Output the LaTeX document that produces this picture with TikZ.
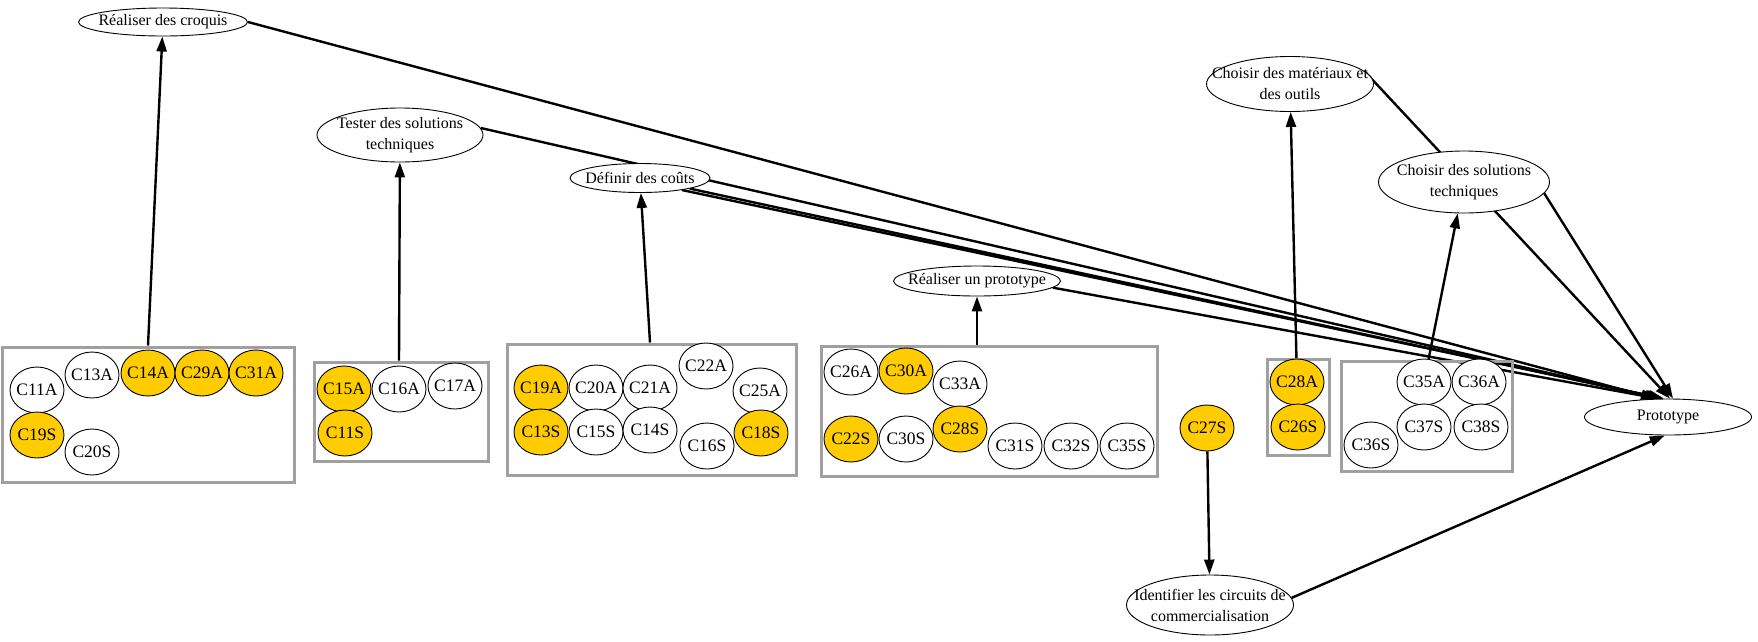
\documentclass[tikz,border=0pt]{standalone}
\usepackage{fontspec}
\setmainfont{Liberation Serif}
\usetikzlibrary{shapes.geometric,arrows.meta,backgrounds}
\definecolor{cyel}{RGB}{255,204,0}
\definecolor{cgry}{RGB}{160,160,160}
\newcommand\enode[6]{\node[en={#4}{#5}] (#1) at (#2,#3) {}; \node[lab] (#1t) at (#1) {#6};}
\begin{document}
\begin{tikzpicture}[x=1pt,y=-1pt,
  cn/.style={ellipse,draw,line width=0.9pt,fill=white,minimum width=54pt,minimum height=46pt,inner xsep=-4pt,inner ysep=0pt,font=\fontsize{17.5}{20}\selectfont},
  ycn/.style={cn,fill=cyel},
  en/.style 2 args={ellipse,draw,line width=0.9pt,fill=white,minimum width=#1,minimum height=#2,inner sep=0pt},
  lab/.style={align=center,font=\fontsize{16}{21}\selectfont,inner sep=0pt},
  clus/.style={draw=cgry,line width=3pt,inner sep=0pt},
  edge/.style={line width=2.4pt},
  arr/.style={edge,-{Triangle[length=15pt,width=10pt]}}
]
\useasboundingbox (0,0) rectangle (1758,641);
% clusters
\node[clus,minimum width=292pt,minimum height=135pt] (box1) at (148,414.5) {};
\node[clus,minimum width=174pt,minimum height=99pt] (box2) at (401,411.5) {};
\node[clus,minimum width=289pt,minimum height=131pt] (box3) at (651.5,409.5) {};
\node[clus,minimum width=336pt,minimum height=130pt] (box4) at (989,411) {};
\node[clus,minimum width=62pt,minimum height=96pt] (box5) at (1298,407) {};
\node[clus,minimum width=171pt,minimum height=110pt] (box6) at (1426.5,416) {};
% box 1
\node[cn]  (C11A) at (37,390) {C11A};
\node[cn]  (C13A) at (92,375) {C13A};
\node[ycn] (C14A) at (148,373) {C14A};
\node[ycn] (C29A) at (202,373) {C29A};
\node[ycn] (C31A) at (256,373) {C31A};
\node[ycn] (C19S) at (37,435) {C19S};
\node[cn]  (C20S) at (92,452) {C20S};
% box 2
\node[ycn] (C15A) at (344,389) {C15A};
\node[cn]  (C16A) at (399,389) {C16A};
\node[cn]  (C17A) at (455,386) {C17A};
\node[ycn] (C11S) at (345,433) {C11S};
% box 3
\node[ycn] (C19A) at (541,388) {C19A};
\node[cn]  (C20A) at (596,388) {C20A};
\node[cn]  (C21A) at (650,388) {C21A};
\node[cn]  (C22A) at (706,366) {C22A};
\node[cn]  (C25A) at (760,391) {C25A};
\node[ycn] (C13S) at (541,432) {C13S};
\node[cn]  (C15S) at (596,432) {C15S};
\node[cn]  (C14S) at (650,430) {C14S};
\node[cn]  (C16S) at (707,446) {C16S};
\node[ycn] (C18S) at (761,433) {C18S};
% box 4
\node[cn]  (C26A) at (851,372) {C26A};
\node[ycn] (C30A) at (906,371) {C30A};
\node[cn]  (C33A) at (960,384) {C33A};
\node[ycn] (C22S) at (851,439) {C22S};
\node[cn]  (C30S) at (906,439) {C30S};
\node[ycn] (C28S) at (960,429) {C28S};
\node[cn]  (C31S) at (1015,446) {C31S};
\node[cn]  (C32S) at (1071,446) {C32S};
\node[cn]  (C35S) at (1127,446) {C35S};
% box 5
\node[ycn] (C28A) at (1297,382) {C28A};
\node[ycn] (C26S) at (1298,427) {C26S};
\node[ycn] (C27S) at (1207,428) {C27S};
% box 6
\node[cn] (C35A) at (1424,382) {C35A};
\node[cn] (C36A) at (1479,382) {C36A};
\node[cn] (C37S) at (1424,427) {C37S};
\node[cn] (C38S) at (1481,427) {C38S};
\node[cn] (C36S) at (1371,445) {C36S};
% task ellipses
\enode{croquis}{163}{22}{169pt}{28pt}{Réaliser des croquis}
\enode{tester}{400}{135}{166pt}{54pt}{Tester des solutions\\techniques}
\enode{def}{640}{178}{140pt}{29pt}{Définir des coûts}
\enode{reaproto}{977}{281}{167pt}{30pt}{Réaliser un prototype}
\enode{mat}{1290}{84}{167pt}{55pt}{Choisir des matériaux et\\des outils}
\enode{sol}{1464}{182}{171pt}{62pt}{Choisir des solutions\\techniques}
\enode{proto}{1668}{417}{167pt}{36pt}{Prototype}
\enode{ident}{1210}{605}{167pt}{60pt}{Identifier les circuits de\\commercialisation}
% edges
\begin{scope}[on background layer]
\draw[arr] (C14A |- box1.north) -- (croquis);
\draw[arr] (C16A |- box2.north) -- (tester);
\draw[arr] (C21A |- box3.north) -- (def);
\draw[arr] (reaproto |- box4.north) -- (reaproto);
\draw[arr] (C28A) -- (mat);
\draw[arr] (C35A) -- (sol);
\draw[arr] (C27S) -- (ident);
\draw[arr] (croquis.east) -- ([xshift=-12pt]proto.north);
\draw[arr] (tester.5) -- ([xshift=-8pt]proto.north);
\draw[arr] (def.-12) -- ([xshift=-6pt]proto.north);
\draw[arr] (def.-16) -- ([xshift=-4pt]proto.north);
\draw[arr] (reaproto.-5) -- ([xshift=-10pt]proto.north);
\draw[arr] (mat.10) -- ([xshift=2pt]proto.north);
\draw[arr] (sol.-8) -- ([xshift=5pt]proto.north);
\draw[arr] (ident.5) -- (proto.260);
\end{scope}
\end{tikzpicture}
\end{document}
